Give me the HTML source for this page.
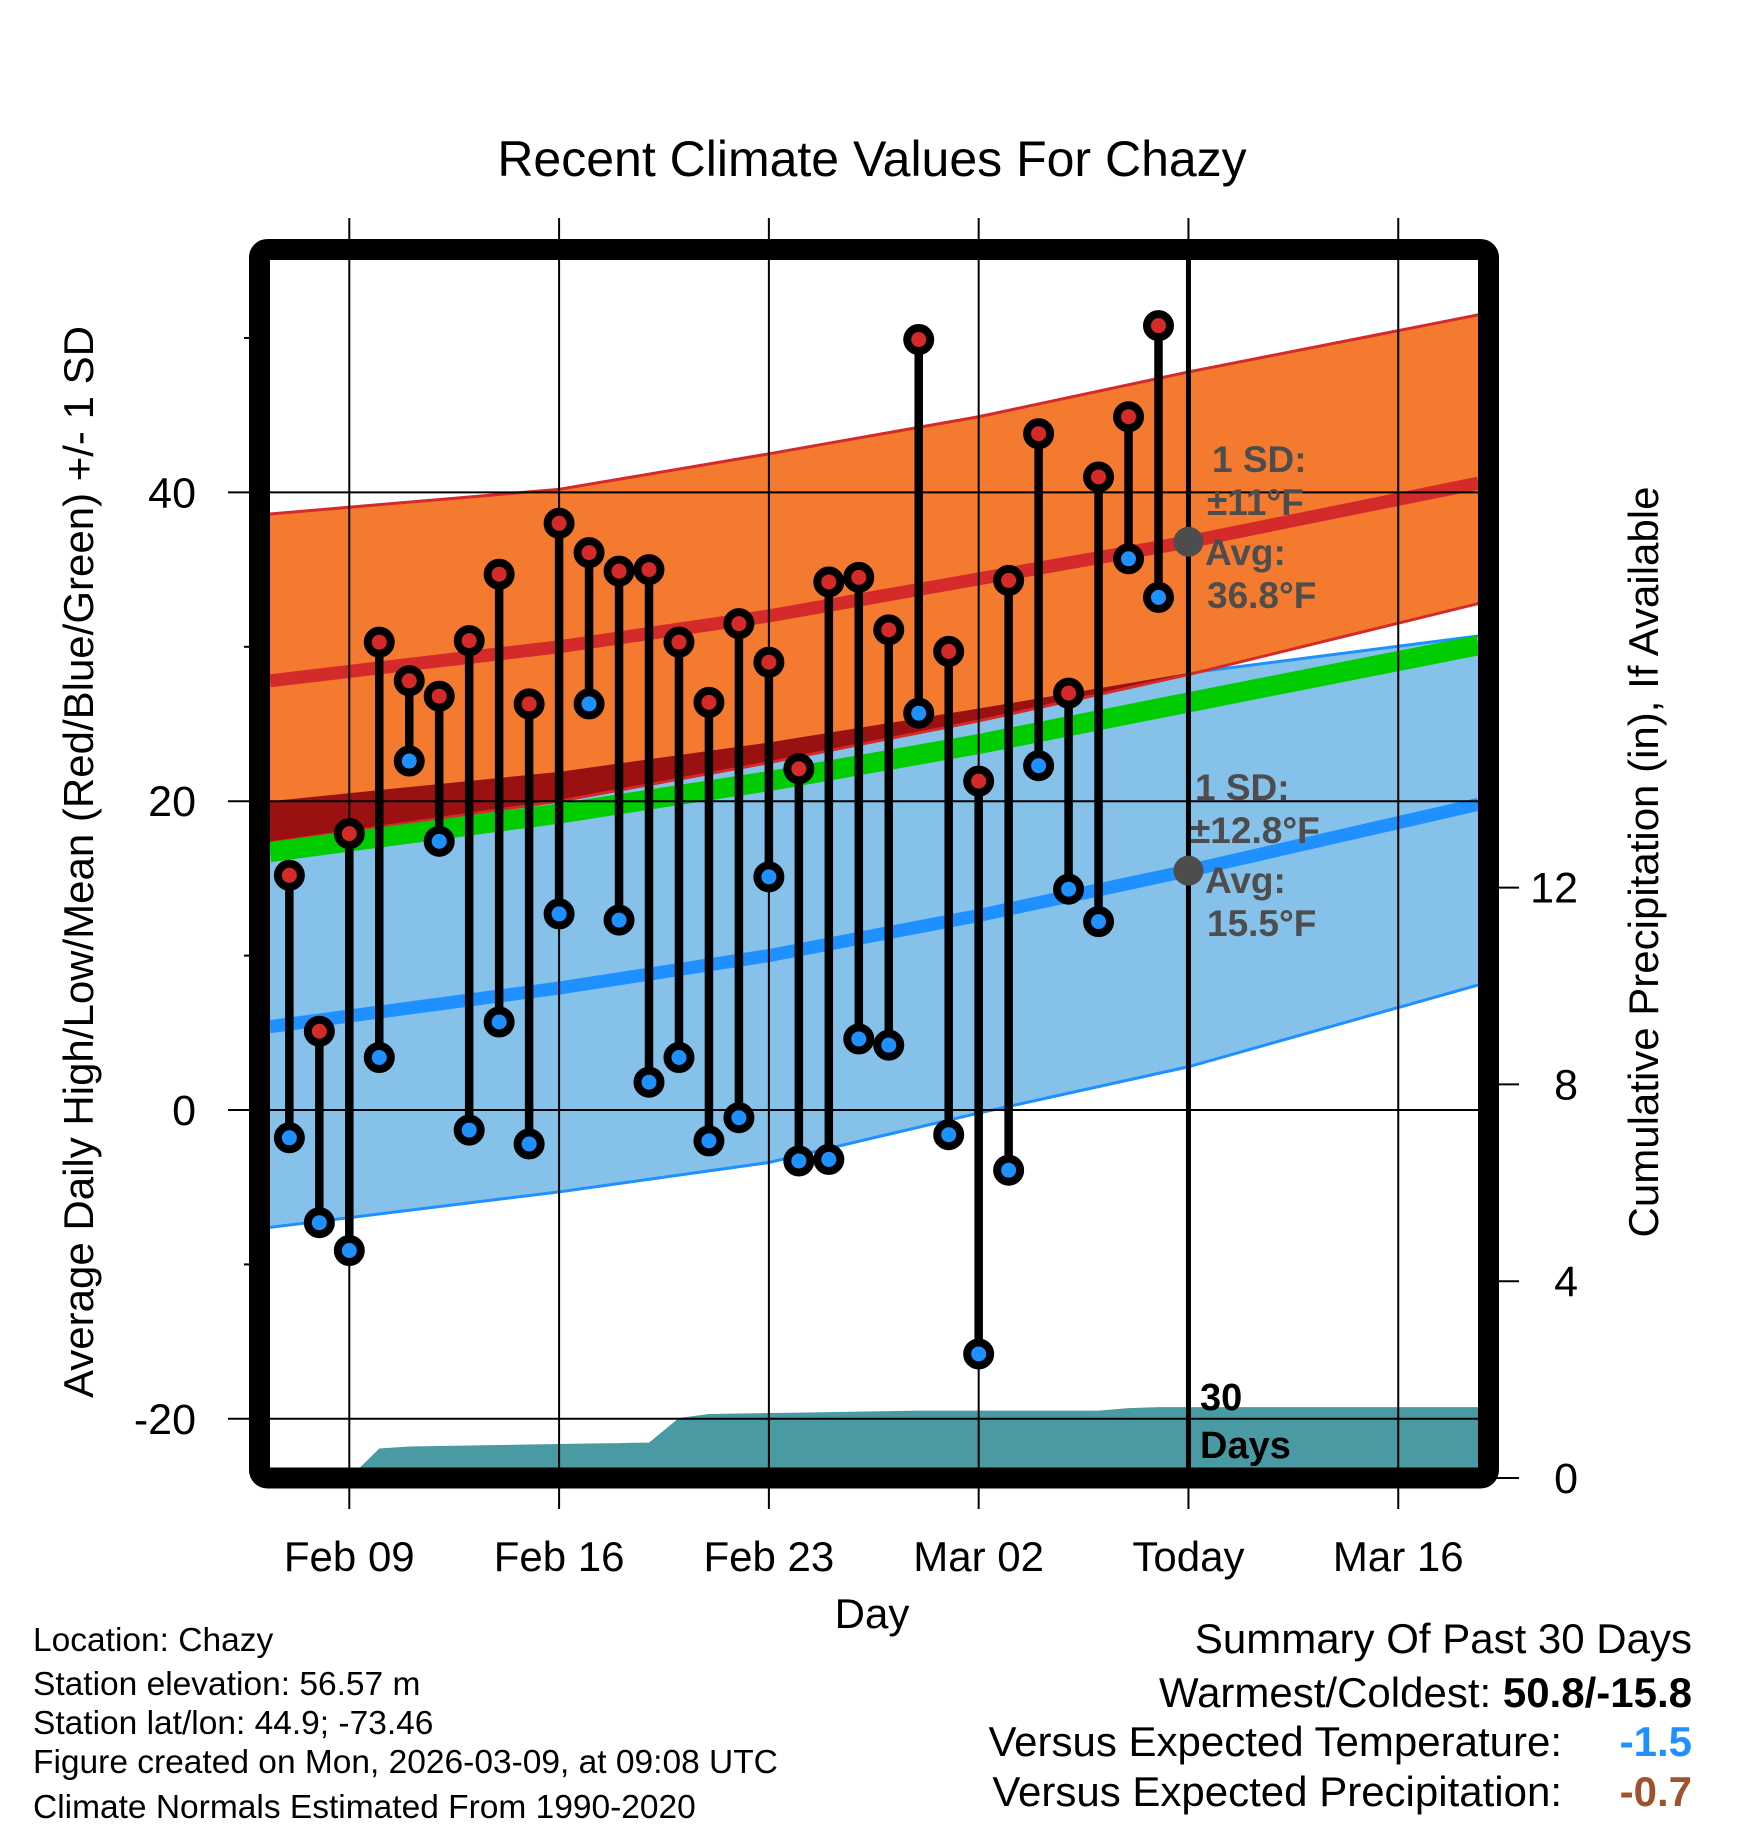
<!DOCTYPE html>
<html><head><meta charset="utf-8"><style>
html,body{margin:0;padding:0;background:#fff}
svg{display:block;font-family:"Liberation Sans",sans-serif}
</style></head><body>
<svg id="chart" width="1748" height="1828" viewBox="0 0 1748 1828" xmlns="http://www.w3.org/2000/svg">
<defs><clipPath id="plotclip"><rect x="270" y="260" width="1208" height="1208"/></clipPath></defs>
<text x="872" y="176" font-size="50" text-anchor="middle">Recent Climate Values For Chazy</text>
<g id="bands" clip-path="url(#plotclip)"></g>
<g id="grid"></g>
<g id="marks" clip-path="url(#plotclip)"></g>
<rect x="259.5" y="249.5" width="1229" height="1228.5" rx="8" fill="none" stroke="#000" stroke-width="21"/>
<g id="annot" font-weight="bold" fill="#4d4d4d" font-size="37">
<text x="1212" y="472">1 SD:</text>
<text x="1207" y="515">±11°F</text>
<text x="1205" y="565">Avg:</text>
<text x="1207" y="608">36.8°F</text>
<text x="1195" y="800">1 SD:</text>
<text x="1190" y="843">±12.8°F</text>
<text x="1205" y="893">Avg:</text>
<text x="1207" y="936">15.5°F</text>
</g>
<text font-weight="bold" font-size="38" fill="#000"><tspan x="1200" y="1410">30</tspan><tspan x="1200" y="1458">Days</tspan></text>
<text x="872" y="1628" font-size="42" text-anchor="middle">Day</text>
<text transform="translate(93,862) rotate(-90)" font-size="42" text-anchor="middle">Average Daily High/Low/Mean (Red/Blue/Green) +/- 1 SD</text>
<text transform="translate(1658,862) rotate(-90)" font-size="42" text-anchor="middle">Cumulative Precipitation (in), If Available</text>
<g font-size="33.5" fill="#000">
<text x="33" y="1651">Location: Chazy</text>
<text x="33" y="1695">Station elevation: 56.57 m</text>
<text x="33" y="1734">Station lat/lon: 44.9; -73.46</text>
<text x="33" y="1773">Figure created on Mon, 2026-03-09, at 09:08 UTC</text>
<text x="33" y="1818">Climate Normals Estimated From 1990-2020</text>
</g>
<g font-size="42" text-anchor="end">
<text x="1692" y="1653">Summary Of Past 30 Days</text>
<text x="1692" y="1707">Warmest/Coldest: <tspan font-weight="bold">50.8/-15.8</tspan></text>
<text x="1562" y="1756">Versus Expected Temperature:</text>
<text x="1692" y="1756" font-weight="bold" fill="#1e90ff">-1.5</text>
<text x="1562" y="1806">Versus Expected Precipitation:</text>
<text x="1692" y="1806" font-weight="bold" fill="#a0522d">-0.7</text>
</g>
</svg>
<script>
// day offsets from Feb 07
const normDays = [-0.65, 9, 16, 23, 30, 39.67];
const normHighMean = [27.8, 30.0, 32.0, 34.4, 36.8, 40.6];
const normHighUpper = [38.6, 40.2, 42.5, 44.9, 47.8, 51.5];
const normHighLower = [17.3, 20.0, 22.5, 25.2, 28.2, 32.8];
const normLowMean = [5.4, 7.9, 10.0, 12.6, 15.5, 19.8];
const normLowUpper = [20.0, 21.9, 23.8, 26.0, 28.3, 30.7];
const normLowLower = [-7.6, -5.3, -3.4, -0.2, 2.8, 8.1];
const normMean = [16.7, 19.2, 21.3, 23.7, 26.4, 30.1];
const highs = [15.2,5.1,17.9,30.3,27.8,26.8,30.4,34.7,26.3,38.0,36.1,34.9,35.0,30.3,26.4,31.5,29.0,22.1,34.2,34.5,31.1,49.9,29.7,21.3,34.3,43.8,27.0,41.0,44.9,50.8];
const lows = [-1.8,-7.3,-9.1,3.4,22.6,17.4,-1.3,5.7,-2.2,12.7,26.3,12.3,1.8,3.4,-2.0,-0.5,15.1,-3.3,-3.2,4.6,4.2,25.7,-1.6,-15.8,-3.9,22.3,14.3,12.2,35.7,33.2];
const precip = [0,0,0,0.6,0.64,0.65,0.66,0.67,0.68,0.69,0.70,0.71,0.72,1.22,1.30,1.31,1.32,1.33,1.34,1.35,1.36,1.37,1.37,1.37,1.37,1.37,1.37,1.37,1.42,1.44];
const xTickDays = [2, 9, 16, 23, 30, 37];
const xTickLabels = ["Feb 09","Feb 16","Feb 23","Mar 02","Today","Mar 16"];
const yTicks = [40, 20, 0, -20];
const yMinorTicks = [50, 30, 10, -10];
const y2Ticks = [0, 4, 8, 12];
const todayDay = 30;
const todayHigh = 36.8, todayLow = 15.5;

const NS = "http://www.w3.org/2000/svg";
const X = d => 349.3 + (d - 2) * 29.97;
const Y = v => 338 + (50 - v) * 15.44;
const Y2 = p => 1478 - p * 49.2;
function mk(tag, attrs, parent) {
  const e = document.createElementNS(NS, tag);
  for (const k in attrs) e.setAttribute(k, attrs[k]);
  parent.appendChild(e);
  return e;
}
const bands = document.getElementById('bands');
const grid = document.getElementById('grid');
const marks = document.getElementById('marks');
const svg = document.getElementById('chart');

function linePts(arr) { return normDays.map((d, i) => X(d) + ',' + Y(arr[i])).join(' '); }
function bandPts(up, lo) {
  const a = normDays.map((d, i) => X(d) + ',' + Y(up[i]));
  const b = normDays.map((d, i) => X(d) + ',' + Y(lo[i])).reverse();
  return a.concat(b).join(' ');
}
let e;
e = mk('polygon', {points: bandPts(normLowUpper, normLowLower), fill: '#85c1e9'}, bands);


e = mk('polyline', {points: linePts(normLowUpper), fill: 'none', stroke: '#1e90ff', 'stroke-width': 3}, bands);


e = mk('polyline', {points: linePts(normLowLower), fill: 'none', stroke: '#1e90ff', 'stroke-width': 3}, bands);


e = mk('polygon', {points: bandPts(normHighUpper, normHighLower), fill: '#f47a2f'}, bands);


const cp = mk('clipPath', {id: 'lowclip'}, svg.querySelector('defs'));
mk('polygon', {points: bandPts(normLowUpper, normLowLower)}, cp);
e = mk('polygon', {points: bandPts(normHighUpper, normHighLower), fill: '#9b1010', 'clip-path': 'url(#lowclip)'}, bands);


e = mk('polyline', {points: linePts(normHighUpper), fill: 'none', stroke: '#d42a2a', 'stroke-width': 3}, bands);


e = mk('polyline', {points: linePts(normHighLower), fill: 'none', stroke: '#d42a2a', 'stroke-width': 3}, bands);


e = mk('polyline', {points: linePts(normMean), fill: 'none', stroke: '#00cc00', 'stroke-width': 20}, bands);


e = mk('polyline', {points: linePts(normLowMean), fill: 'none', stroke: '#1e90ff', 'stroke-width': 13}, bands);


e = mk('polyline', {points: linePts(normHighMean), fill: 'none', stroke: '#d42a2a', 'stroke-width': 13}, bands);



// precipitation area
let pp = [X(-0.65) + ',' + Y2(0)];
precip.forEach((p, i) => { pp.push(X(i) + ',' + Y2(p)); });
pp.push(X(39.67) + ',' + Y2(precip[precip.length - 1]));
pp.push(X(39.67) + ',' + Y2(-1));
pp.push(X(-0.65) + ',' + Y2(-1));
e = mk('polygon', {points: pp.join(' '), fill: '#4a9aa3'}, bands);



// grid & ticks
xTickDays.forEach((d, i) => {
  e = mk('line', {x1: X(d), x2: X(d), y1: 218, y2: 1509, stroke: '#000', 'stroke-width': 2}, grid);
  
  
  e = mk('text', {x: X(d), y: 1571, 'font-size': 42, 'text-anchor': 'middle'}, grid);
  e.textContent = xTickLabels[i];
  
  
});
yTicks.forEach(v => {
  e = mk('line', {x1: 228, x2: 1478, y1: Y(v), y2: Y(v), stroke: '#000', 'stroke-width': 2}, grid);
  
  
  e = mk('text', {x: 196, y: Y(v) + 15, 'font-size': 43, 'text-anchor': 'end'}, grid);
  e.textContent = v;
  
  
});
yMinorTicks.forEach(v => {
  e = mk('line', {x1: 244, x2: 260, y1: Y(v), y2: Y(v), stroke: '#000', 'stroke-width': 2}, grid);
  
  
});
y2Ticks.forEach(p => {
  e = mk('line', {x1: 1488, x2: 1519, y1: Y2(p), y2: Y2(p), stroke: '#000', 'stroke-width': 2}, grid);
  
  
  e = mk('text', {x: 1578, y: Y2(p) + 15, 'font-size': 43, 'text-anchor': 'end'}, grid);
  e.textContent = p;
  
  
});
e = mk('line', {x1: X(todayDay), x2: X(todayDay), y1: 260, y2: 1468, stroke: '#000', 'stroke-width': 5}, grid);



// daily stems & points
highs.forEach((h, i) => {
  e = mk('line', {x1: X(i), x2: X(i), y1: Y(h), y2: Y(lows[i]), stroke: '#000', 'stroke-width': 8.5}, marks);
  
  
});
highs.forEach((h, i) => {
  e = mk('circle', {cx: X(i), cy: Y(h), r: 11.5, fill: '#d42a2a', stroke: '#000', 'stroke-width': 8}, marks);
  
  
  e = mk('circle', {cx: X(i), cy: Y(lows[i]), r: 11.5, fill: '#1e90ff', stroke: '#000', 'stroke-width': 8}, marks);
  
  
});
e = mk('circle', {cx: X(todayDay), cy: Y(todayHigh), r: 15, fill: '#4d4d4d'}, marks);


e = mk('circle', {cx: X(todayDay), cy: Y(todayLow), r: 15, fill: '#4d4d4d'}, marks);


</script>
</body></html>
